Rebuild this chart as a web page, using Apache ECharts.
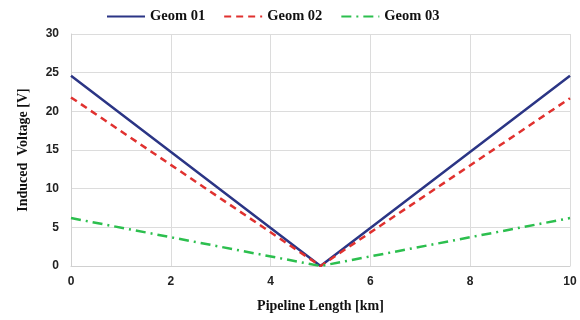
<!DOCTYPE html>
<html>
<head>
<meta charset="utf-8">
<script src="https://cdn.jsdelivr.net/npm/echarts@6/dist/echarts.min.js"></script>
<style>
html, body { margin: 0; padding: 0; background: #fff; }
#chart { width: 580px; height: 320px; }
</style>
</head>
<body>
<div id="chart"></div>
<script>
// pipeline position [km]
var xPoints = [0, 5, 10];
// induced voltage [V]
var geom01 = [24.6, 0, 24.6];
var geom02 = [21.8, 0, 21.7];
var geom03 = [6.2, 0, 6.2];
var seriesNames = ["Geom 01", "Geom 02", "Geom 03"];

function pairs(vals) {
    return xPoints.map(function(x, i) {
        return [x, vals[i]];
    });
}

var myChart = echarts.init(document.getElementById("chart"));
var option = {
    animation: false,
    legend: {
        top: 4,
        left: 101,
        itemWidth: 38,
        itemHeight: 10,
        itemGap: 18,
        itemStyle: { opacity: 0 },
        textStyle: {
            fontFamily: "Liberation Serif",
            fontWeight: "bold",
            fontSize: 14.5,
            color: "#111"
        },
        data: seriesNames
    },
    grid: {
        top: 34,
        left: 71,
        right: 10,
        bottom: 54
    },
    xAxis: {
        type: "value",
        min: 0,
        max: 10,
        interval: 2,
        name: "Pipeline Length [km]",
        nameLocation: "middle",
        nameGap: 33,
        nameTextStyle: {
            fontFamily: "Liberation Serif",
            fontWeight: "bold",
            fontSize: 14,
            color: "#111"
        },
        axisLine: { lineStyle: { color: "#d0d0d0" } },
        axisTick: { show: false },
        axisLabel: {
            fontFamily: "Liberation Sans",
            fontWeight: "bold",
            fontSize: 12,
            color: "#222",
            margin: 10
        },
        splitLine: { lineStyle: { color: "#dcdcdc" } }
    },
    yAxis: {
        type: "value",
        min: 0,
        max: 30,
        interval: 5,
        name: "Induced  Voltage [V]",
        nameLocation: "middle",
        nameGap: 41,
        nameTextStyle: {
            fontFamily: "Liberation Serif",
            fontWeight: "bold",
            fontSize: 14,
            color: "#111"
        },
        axisLine: { show: true, lineStyle: { color: "#d0d0d0" } },
        axisTick: { show: false },
        axisLabel: {
            fontFamily: "Liberation Sans",
            fontWeight: "bold",
            fontSize: 12,
            color: "#222",
            margin: 12
        },
        splitLine: { lineStyle: { color: "#dcdcdc" } }
    },
    series: [
        {
            name: seriesNames[0],
            type: "line",
            symbol: "none",
            data: pairs(geom01),
            itemStyle: { color: "#2b3585" },
            lineStyle: { color: "#2b3585", width: 2.5, type: "solid" }
        },
        {
            name: seriesNames[1],
            type: "line",
            symbol: "none",
            data: pairs(geom02),
            itemStyle: { color: "#e0312f" },
            lineStyle: { color: "#e0312f", width: 2.5, type: [7, 5] }
        },
        {
            name: seriesNames[2],
            type: "line",
            symbol: "none",
            data: pairs(geom03),
            itemStyle: { color: "#2cbf4e" },
            lineStyle: { color: "#2cbf4e", width: 2.5, type: [10, 5, 2, 5] }
        }
    ]
};
myChart.setOption(option);
</script>
</body>
</html>
